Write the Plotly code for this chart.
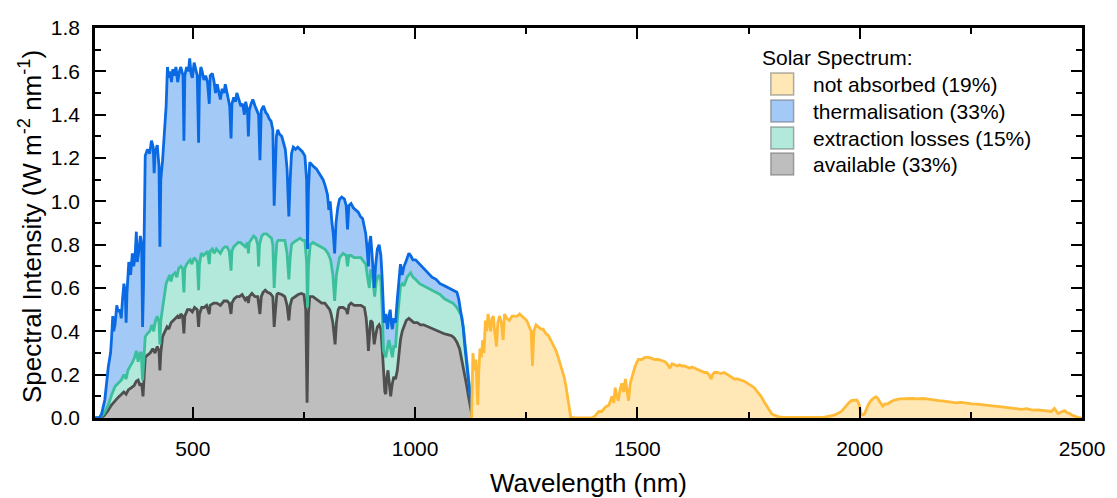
import plotly.graph_objects as go

# ---------------- data ----------------
wl_total = [280, 290, 295, 302, 310, 315, 317, 320, 322, 325, 329, 332, 336, 339, 342, 345, 348, 350, 352, 356,
            360, 364, 367, 370, 373, 375, 378, 382, 385, 387, 389, 391, 393, 398, 403, 407, 411, 413, 415, 420,
            424, 426, 428, 432, 436, 440, 443, 446, 449, 452, 455, 458, 462, 466, 470, 473, 478, 480, 482, 486,
            490, 493, 496, 499, 503, 507, 510, 513, 515, 518, 521, 525, 529, 533, 537, 539, 544, 548, 551, 555,
            559, 562, 566, 570, 573, 578, 583, 586, 588, 592, 596, 599, 604, 608, 612, 616, 619, 623, 625, 627,
            631, 635, 640, 644, 648, 651, 654, 659, 664, 668, 672, 676, 680, 683, 685, 688, 691, 695, 700, 704,
            708, 712, 716, 719, 722, 726, 731, 736, 741, 746, 752, 756, 758, 760, 763, 767, 772, 778, 784, 789,
            793, 798, 803, 806, 809, 813, 816, 819, 822, 826, 830, 835, 841, 845, 848, 851, 856, 861, 867, 872,
            877, 882, 886, 889, 892, 895, 897, 900, 903, 906, 908, 911, 915, 919, 923, 926, 928, 930, 934, 938,
            941, 944, 947, 949, 952, 956, 960, 964, 967, 971, 975, 979, 982, 986, 990, 995, 1001, 1010, 1019,
            1028, 1038, 1047, 1056, 1066, 1075, 1085, 1094, 1098, 1101, 1105, 1108, 1112, 1116, 1120, 1123,
            1126, 1129]
total = [0, 0, 0.02, 0.083, 0.237, 0.30, 0.36, 0.47, 0.40, 0.43, 0.52, 0.49, 0.50, 0.46, 0.55, 0.62, 0.58, 0.44,
         0.58, 0.72, 0.66, 0.76, 0.70, 0.74, 0.86, 0.72, 0.76, 0.84, 0.80, 0.42, 0.60, 1.05, 1.21, 1.24, 1.22,
         1.28, 1.25, 1.13, 1.22, 1.26, 1.16, 0.79, 1.10, 1.19, 1.32, 1.44, 1.62, 1.57, 1.60, 1.55, 1.61, 1.58,
         1.62, 1.55, 1.60, 1.62, 1.58, 1.28, 1.58, 1.62, 1.60, 1.66, 1.59, 1.57, 1.64, 1.60, 1.58, 1.27, 1.55,
         1.62, 1.60, 1.56, 1.58, 1.55, 1.45, 1.58, 1.59, 1.55, 1.50, 1.54, 1.50, 1.47, 1.52, 1.50, 1.54, 1.48,
         1.44, 1.29, 1.45, 1.48, 1.46, 1.50, 1.47, 1.44, 1.45, 1.40, 1.46, 1.42, 1.30, 1.42, 1.45, 1.47, 1.44,
         1.42, 1.40, 1.19, 1.42, 1.44, 1.41, 1.40, 1.38, 1.37, 1.33, 0.98, 1.10, 1.30, 1.33, 1.31, 1.30, 1.27,
         1.24, 1.15, 0.93, 1.10, 1.22, 1.25, 1.24, 1.25, 1.24, 1.23, 1.21, 1.10, 0.78, 1.05, 1.18, 1.17, 1.16,
         1.15, 1.13, 1.11, 1.10, 1.07, 1.03, 0.96, 1.00, 0.90, 0.85, 0.76, 0.90, 0.97, 1.01, 1.02, 1.01, 0.98,
         0.87, 0.98, 0.99, 0.97, 0.96, 0.95, 0.93, 0.92, 0.88, 0.85, 0.78, 0.70, 0.80, 0.84, 0.76, 0.66, 0.60,
         0.70, 0.78, 0.80, 0.75, 0.64, 0.52, 0.44, 0.48, 0.41, 0.47, 0.50, 0.43, 0.41, 0.46, 0.44, 0.55, 0.64,
         0.71, 0.66, 0.70, 0.72, 0.74, 0.76, 0.75, 0.73, 0.73, 0.71, 0.69, 0.67, 0.65, 0.64, 0.62, 0.61, 0.60,
         0.59, 0.58, 0.55, 0.51, 0.45, 0.42, 0.33, 0.25, 0.18, 0.13, 0.06, 0]

wl_extract = [280, 290, 300, 310, 318, 325, 332, 339, 345, 350, 354, 360, 365, 369, 373, 377, 381, 384, 387, 389,
              391, 393, 398, 403, 408, 412, 416, 420, 424, 426, 428, 432, 436, 440, 444, 448, 451, 455, 460, 464,
              468, 473, 477, 480, 482, 486, 490, 494, 498, 503, 507, 510, 513, 515, 519, 524, 529, 533, 537, 539,
              544, 548, 553, 557, 562, 567, 572, 577, 582, 586, 588, 592, 597, 602, 607, 612, 618, 623, 625, 627,
              633, 637, 642, 646, 648, 650, 655, 660, 666, 672, 677, 680, 683, 686, 689, 692, 700, 707, 712, 716,
              719, 722, 726, 733, 741, 747, 752, 756, 758, 760, 764, 770, 778, 789, 797, 804, 810, 815, 819, 823,
              827, 830, 838, 845, 848, 851, 856, 863, 870, 878, 885, 889, 893, 897, 900, 904, 907, 909, 912, 915,
              919, 923, 926, 929, 934, 938, 941, 945, 949, 952, 956, 960, 964, 967, 971, 975, 982, 990, 995, 1001,
              1010, 1019, 1028, 1038, 1047, 1056, 1066, 1075, 1085, 1094, 1100, 1105, 1109, 1112, 1116, 1120,
              1125, 1129]
extract = [0, 0, 0.02, 0.06, 0.11, 0.145, 0.16, 0.175, 0.20, 0.18, 0.22, 0.24, 0.26, 0.28, 0.31, 0.26, 0.30, 0.30,
           0.175, 0.24, 0.33, 0.375, 0.39, 0.40, 0.43, 0.40, 0.45, 0.47, 0.44, 0.34, 0.45, 0.51, 0.57, 0.62, 0.64,
           0.66, 0.63, 0.66, 0.67, 0.65, 0.69, 0.70, 0.69, 0.58, 0.69, 0.71, 0.72, 0.73, 0.71, 0.74, 0.73, 0.72,
           0.59, 0.71, 0.76, 0.75, 0.76, 0.77, 0.71, 0.77, 0.78, 0.76, 0.78, 0.77, 0.76, 0.78, 0.79, 0.79, 0.77,
           0.68, 0.77, 0.79, 0.80, 0.81, 0.81, 0.80, 0.79, 0.81, 0.76, 0.81, 0.83, 0.84, 0.83, 0.80, 0.70, 0.80,
           0.84, 0.85, 0.85, 0.84, 0.83, 0.80, 0.60, 0.72, 0.81, 0.82, 0.82, 0.82, 0.76, 0.64, 0.74, 0.80, 0.81,
           0.82, 0.83, 0.82, 0.82, 0.72, 0.51, 0.70, 0.80, 0.81, 0.80, 0.79, 0.78, 0.76, 0.73, 0.66, 0.54, 0.66,
           0.72, 0.74, 0.76, 0.75, 0.70, 0.75, 0.75, 0.74, 0.74, 0.74, 0.72, 0.71, 0.65, 0.60, 0.68, 0.68, 0.60,
           0.56, 0.62, 0.65, 0.66, 0.63, 0.50, 0.31, 0.28, 0.33, 0.36, 0.32, 0.28, 0.33, 0.33, 0.45, 0.56, 0.61,
           0.62, 0.61, 0.65, 0.67, 0.65, 0.64, 0.62, 0.61, 0.60, 0.59, 0.58, 0.57, 0.55, 0.54, 0.53, 0.51, 0.49,
           0.47, 0.41, 0.34, 0.27, 0.19, 0.09, 0]

wl_avail = [280, 290, 300, 308, 317, 325, 332, 339, 345, 350, 355, 362, 368, 373, 377, 381, 385, 388, 390, 393,
            398, 404, 410, 415, 420, 424, 426, 428, 432, 437, 442, 446, 451, 456, 461, 466, 470, 473, 477, 480,
            482, 488, 494, 499, 504, 510, 513, 515, 520, 525, 531, 537, 539, 547, 554, 562, 570, 577, 582, 586,
            588, 593, 599, 605, 611, 618, 623, 625, 627, 633, 640, 646, 651, 654, 658, 663, 668, 674, 680, 683,
            686, 689, 692, 700, 707, 712, 716, 719, 723, 730, 737, 744, 750, 754, 757, 760, 763, 770, 781, 790,
            797, 804, 808, 811, 815, 820, 823, 827, 830, 838, 845, 848, 851, 856, 863, 871, 878, 886, 890, 893,
            895, 898, 900, 904, 908, 911, 915, 919, 923, 926, 929, 932, 934, 936, 939, 942, 945, 948, 952, 956,
            960, 964, 967, 971, 975, 980, 986, 991, 997, 1005, 1012, 1019, 1030, 1042, 1053, 1064, 1073, 1082,
            1088, 1094, 1100, 1105, 1109, 1112, 1116, 1120, 1124, 1127, 1129]
avail = [0, 0, 0.01, 0.03, 0.06, 0.08, 0.095, 0.108, 0.12, 0.11, 0.13, 0.14, 0.15, 0.17, 0.175, 0.15, 0.16, 0.10,
         0.18, 0.28, 0.29, 0.30, 0.32, 0.30, 0.33, 0.31, 0.22, 0.30, 0.375, 0.40, 0.42, 0.41, 0.44, 0.45, 0.46,
         0.47, 0.46, 0.48, 0.47, 0.39, 0.47, 0.50, 0.50, 0.49, 0.51, 0.50, 0.42, 0.48, 0.51, 0.51, 0.52, 0.48,
         0.52, 0.53, 0.53, 0.52, 0.54, 0.54, 0.53, 0.48, 0.53, 0.55, 0.56, 0.56, 0.57, 0.545, 0.56, 0.53, 0.56,
         0.575, 0.56, 0.56, 0.48, 0.56, 0.58, 0.59, 0.58, 0.575, 0.56, 0.42, 0.50, 0.57, 0.575, 0.57, 0.56,
         0.52, 0.45, 0.52, 0.55, 0.56, 0.57, 0.575, 0.57, 0.50, 0.07, 0.48, 0.56, 0.56, 0.545, 0.53, 0.53, 0.51,
         0.50, 0.48, 0.44, 0.34, 0.44, 0.50, 0.51, 0.51, 0.50, 0.48, 0.52, 0.53, 0.52, 0.52, 0.52, 0.51, 0.46,
         0.38, 0.31, 0.40, 0.45, 0.44, 0.34, 0.38, 0.42, 0.43, 0.41, 0.32, 0.19, 0.12, 0.11, 0.18, 0.22, 0.16,
         0.10, 0.15, 0.19, 0.18, 0.22, 0.30, 0.36, 0.40, 0.42, 0.45, 0.46, 0.45, 0.44, 0.44, 0.43, 0.43, 0.42,
         0.41, 0.40, 0.39, 0.385, 0.38, 0.37, 0.35, 0.32, 0.27, 0.23, 0.19, 0.15, 0.10, 0.05, 0.02, 0]

wl_notabs = [1127, 1130, 1133, 1137, 1139, 1141, 1143, 1146, 1149, 1152, 1155, 1158, 1161, 1164, 1167, 1170, 1173,
             1176, 1179, 1183, 1186, 1190, 1194, 1198, 1201, 1206, 1212, 1218, 1224, 1230, 1235, 1240, 1246, 1251,
             1257, 1261, 1264, 1267, 1272, 1278, 1283, 1288, 1294, 1300, 1305, 1311, 1317, 1322, 1328, 1332, 1335,
             1339, 1342, 1346, 1350, 1360, 1398, 1405, 1413, 1420, 1428, 1436, 1443, 1447, 1450, 1454, 1457, 1461,
             1465, 1469, 1473, 1477, 1480, 1484, 1487, 1491, 1495, 1502, 1510, 1517, 1525, 1532, 1539, 1547, 1555,
             1562, 1567, 1573, 1578, 1584, 1590, 1595, 1600, 1606, 1612, 1618, 1623, 1629, 1635, 1640, 1646, 1651,
             1656, 1661, 1666, 1669, 1673, 1680, 1688, 1695, 1703, 1710, 1718, 1725, 1733, 1740, 1748, 1755, 1763,
             1770, 1778, 1785, 1790, 1796, 1802, 1807, 1818, 1829, 1918, 1930, 1944, 1959, 1965, 1970, 1976, 1981,
             1987, 1993, 1996, 1999, 2002, 2004, 2008, 2011, 2015, 2019, 2025, 2030, 2034, 2037, 2041, 2045, 2049,
             2052, 2057, 2063, 2070, 2078, 2090, 2104, 2120, 2130, 2141, 2155, 2165, 2178, 2190, 2203, 2216, 2228,
             2240, 2253, 2265, 2278, 2290, 2303, 2315, 2327, 2340, 2352, 2364, 2376, 2388, 2401, 2415, 2425, 2431,
             2438, 2442, 2446, 2453, 2461, 2466, 2472, 2477, 2483, 2490, 2500]
notabs = [0, 0.30, 0.22, 0.27, 0.15, 0.06, 0.20, 0.32, 0.28, 0.36, 0.30, 0.45, 0.40, 0.48, 0.44, 0.40, 0.46, 0.47,
          0.40, 0.33, 0.44, 0.47, 0.44, 0.36, 0.48, 0.46, 0.45, 0.47, 0.47, 0.47, 0.48, 0.47, 0.46, 0.45, 0.42,
          0.40, 0.24, 0.40, 0.43, 0.42, 0.41, 0.41, 0.39, 0.38, 0.36, 0.34, 0.31, 0.28, 0.24, 0.21, 0.19, 0.15,
          0.11, 0.05, 0.005, 0, 0, 0.01, 0.03, 0.03, 0.05, 0.06, 0.10, 0.07, 0.14, 0.10, 0.08, 0.13, 0.16, 0.12,
          0.18, 0.12, 0.08, 0.16, 0.18, 0.21, 0.24, 0.27, 0.27, 0.28, 0.28, 0.275, 0.27, 0.27, 0.265, 0.26, 0.25,
          0.23, 0.25, 0.245, 0.24, 0.245, 0.24, 0.24, 0.235, 0.23, 0.235, 0.23, 0.225, 0.22, 0.215, 0.21, 0.21,
          0.20, 0.18, 0.20, 0.21, 0.21, 0.205, 0.21, 0.20, 0.19, 0.18, 0.18, 0.175, 0.17, 0.16, 0.15, 0.14, 0.12,
          0.10, 0.075, 0.06, 0.04, 0.02, 0.014, 0.005, 0.003, 0.003, 0.008, 0.014, 0.03, 0.045, 0.06, 0.072, 0.08,
          0.083, 0.083, 0.075, 0.06, 0.03, 0.014, 0.015, 0.02, 0.04, 0.06, 0.08, 0.09, 0.096, 0.098, 0.09, 0.075,
          0.06, 0.055, 0.065, 0.065, 0.075, 0.083, 0.088, 0.09, 0.09, 0.088, 0.09, 0.087, 0.083, 0.08, 0.078,
          0.075, 0.07, 0.072, 0.068, 0.065, 0.064, 0.062, 0.06, 0.055, 0.052, 0.049, 0.047, 0.043, 0.04, 0.043,
          0.036, 0.037, 0.033, 0.03, 0.03, 0.044, 0.03, 0.021, 0.028, 0.034, 0.025, 0.021, 0.014, 0.008, 0.003, 0]

x_ticks = [500, 1000, 1500, 2000, 2500]
y_ticks = [0.0, 0.2, 0.4, 0.6, 0.8, 1.0, 1.2, 1.4, 1.6, 1.8]

legend_title = "Solar Spectrum:"
legend_labels = ["not absorbed (19%)", "thermalisation (33%)", "extraction losses (15%)", "available (33%)"]

# ---------------- styles ----------------
C_YEL_F, C_YEL_L = "#FFE8B6", "#FFBA38"
C_BLU_F, C_BLU_L = "#A3CAF7", "#0A6AE3"
C_TEA_F, C_TEA_L = "#B2E9DA", "#3CBF9C"
C_GRY_F, C_GRY_L = "#BEBEBE", "#4F4F4F"
FONT = "Arial, Liberation Sans, sans-serif"
LW = 2.8

fig = go.Figure()
fig.add_trace(go.Scatter(x=wl_avail, y=avail, mode="lines", fill="tozeroy", fillcolor=C_GRY_F,
                         line=dict(color=C_GRY_L, width=LW), showlegend=False))
fig.add_trace(go.Scatter(x=wl_extract, y=extract, mode="lines", fill="tonexty", fillcolor=C_TEA_F,
                         line=dict(color=C_TEA_L, width=LW), showlegend=False))
fig.add_trace(go.Scatter(x=wl_total, y=total, mode="lines", fill="tonexty", fillcolor=C_BLU_F,
                         line=dict(color=C_BLU_L, width=LW), showlegend=False))
fig.add_trace(go.Scatter(x=wl_notabs, y=notabs, mode="lines", fill="tozeroy", fillcolor=C_YEL_F,
                         line=dict(color=C_YEL_L, width=LW), showlegend=False))

L, R, T, B = 95, 26, 28, 80
W, H = 1117, 498
PW, PH = W - L - R, H - T - B

def px(x):
    return (x - L) / PW

def py(y):
    return (H - B - y) / PH

shapes = []
annotations = []
annotations.append(dict(x=px(766), y=py(58), xref="paper", yref="paper", text=legend_title, showarrow=False,
                        xanchor="left", yanchor="middle", font=dict(family=FONT, size=21, color="black")))
fills = [C_YEL_F, C_BLU_F, C_TEA_F, C_GRY_F]
tops = [73, 100, 127, 153]
for lab, fc, t in zip(legend_labels, fills, tops):
    shapes.append(dict(type="rect", xref="paper", yref="paper", x0=px(777), x1=px(800), y0=py(t + 22), y1=py(t),
                       fillcolor=fc, line=dict(color="rgba(80,80,80,0.45)", width=1.5)))
    annotations.append(dict(x=px(818), y=py(t + 11), xref="paper", yref="paper", text=lab, showarrow=False,
                            xanchor="left", yanchor="middle", font=dict(family=FONT, size=21, color="black")))

annotations.append(dict(x=0.5, y=0, xref="paper", yref="paper", text="Wavelength (nm)", showarrow=False,
                        xanchor="center", yanchor="middle", yshift=-65,
                        font=dict(family=FONT, size=26, color="black")))
annotations.append(dict(x=0, y=0.5, xref="paper", yref="paper",
                        text="Spectral Intensity (W m<sup>-2</sup> nm<sup>-1</sup>)", showarrow=False,
                        xanchor="center", yanchor="middle", xshift=-(L - 30), yshift=-4, textangle=-90,
                        font=dict(family=FONT, size=26, color="black")))

axis_common = dict(showgrid=False, zeroline=False, showline=True, linecolor="black", linewidth=2.5,
                   mirror="ticks", ticks="inside", ticklen=11, tickwidth=2.2, tickcolor="black",
                   tickfont=dict(family=FONT, size=21, color="black"))

fig.update_layout(
    width=W, height=H, margin=dict(l=L, r=R, t=T, b=B),
    paper_bgcolor="white", plot_bgcolor="white",
    xaxis=dict(range=[280, 2500], tickvals=x_ticks, ticktext=[str(v) for v in x_ticks],
               minor=dict(dtick=250, tick0=0, ticks="inside", ticklen=6, tickwidth=2.2, tickcolor="black"),
               ticklabelstandoff=10, **axis_common),
    yaxis=dict(range=[0, 1.8], tickvals=y_ticks, ticktext=[f"{v:.1f}" for v in y_ticks],
               minor=dict(dtick=0.1, tick0=0, ticks="inside", ticklen=6, tickwidth=2.2, tickcolor="black"),
               ticklabelstandoff=8, **axis_common),
    shapes=shapes, annotations=annotations, showlegend=False,
)

fig.write_html("out.html")
